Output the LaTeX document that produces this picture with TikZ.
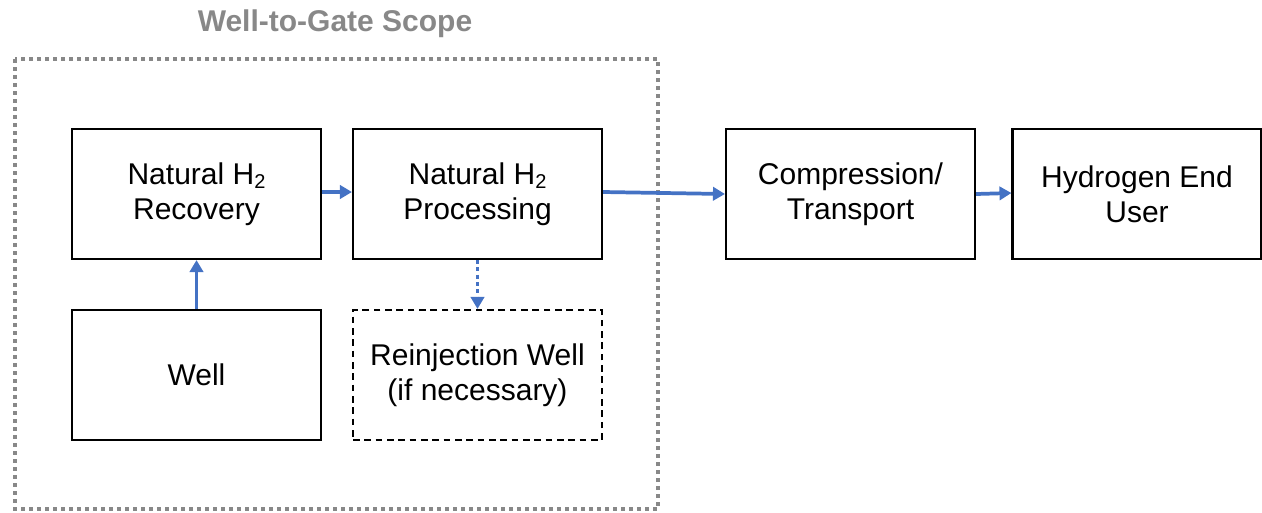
\documentclass[tikz,border=0pt]{standalone}
\usepackage{fontspec}
\setmainfont{Liberation Sans}
\usetikzlibrary{arrows.meta}
\definecolor{flowblue}{HTML}{4472C4}
\definecolor{scopegray}{HTML}{888888}
\newcommand{\subtwo}{\raisebox{-0.3ex}{\fontsize{15}{15}\selectfont 2}}
\begin{document}
\begin{tikzpicture}[x=0.75pt,y=-0.75pt,
  stepbox/.style={draw=black,line width=1.6pt,minimum width=186.75pt,minimum height=97.5pt,
    align=center,font=\fontsize{22.5}{26.5}\selectfont,inner sep=0pt},
  optbox/.style={stepbox,dash pattern=on 5pt off 3.5pt},
  flow/.style={draw=flowblue,line width=2.8pt,-{Triangle[length=9pt,width=10pt]}},
  optflow/.style={flow,dash pattern=on 3pt off 2.5pt},
  scope/.style={draw=scopegray,line width=2.4pt,dash pattern=on 3pt off 3pt}]
\useasboundingbox (0,0) rectangle (1262,512);

% scope frame and its title
\draw[scope] (15,59) rectangle (658,509);
\node[font=\bfseries\fontsize{22.5}{26}\selectfont,text=scopegray] (title) at (335,24) {Well-to-Gate Scope};

% process steps
\node[stepbox] (rec)  at (196.5,194) {Natural H\subtwo\\Recovery};
\node[stepbox] (proc) at (477.5,194) {Natural H\subtwo\\Processing};
\node[stepbox] (comp) at (850.5,194) {Compression/\\Transport};
\node[stepbox] (user) at (1137,194) {Hydrogen End\\User};
\node[stepbox] (well) at (196.5,375) {Well};
\node[optbox]  (rein) at (477.5,375) {Reinjection Well\\(if necessary)};

% flows
\draw[flow] (well.north) -- (rec.south);
\draw[flow] (rec.east |- 0,192) -- (proc.west |- 0,192);
\draw[flow] (proc.east |- 0,192) -- (comp.west |- 0,194);
\draw[flow] (comp.east |- 0,194) -- (user.west |- 0,193);
\draw[optflow] (proc.south) -- (rein.north);
\end{tikzpicture}
\end{document}
